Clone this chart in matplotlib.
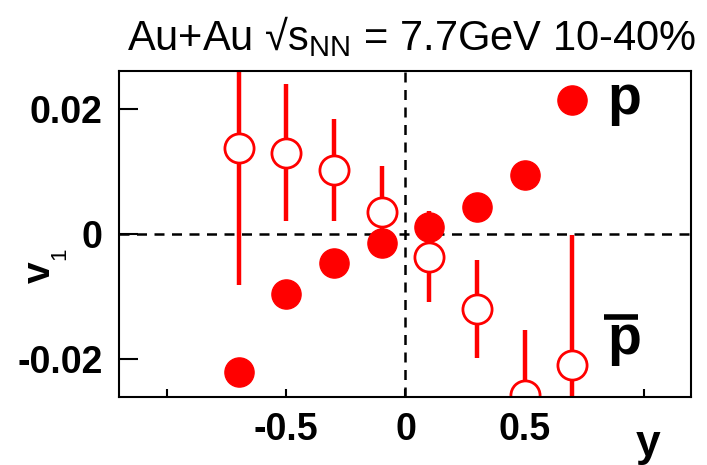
import os

os.environ.setdefault("MPLCONFIGDIR", "/tmp/matplotlib")

import matplotlib
matplotlib.use("Agg")
import matplotlib.pyplot as plt

plt.rcParams["font.family"] = ["Liberation Sans", "DejaVu Sans"]
plt.rcParams["mathtext.fontset"] = "custom"
plt.rcParams["mathtext.rm"] = "Liberation Sans"
plt.rcParams["mathtext.bf"] = "Liberation Sans:bold"

# rapidity bins
y_p = [-0.7, -0.5, -0.3, -0.1, 0.1, 0.3, 0.5]
v1_p = [-0.0220, -0.0096, -0.0046, -0.0014, 0.0012, 0.0044, 0.0094]

y_pbar = [-0.7, -0.5, -0.3, -0.1, 0.1, 0.3, 0.5, 0.7]
v1_pbar = [0.0137, 0.0130, 0.0102, 0.0036, -0.0036, -0.0120, -0.0257, -0.0209]
err_pbar = [0.0218, 0.0109, 0.0081, 0.0073, 0.0073, 0.0078, 0.0104, 0.0208]

xticks = [-1.0, -0.5, 0.0, 0.5, 1.0]
xticklabels = ["", "-0.5", "0", "0.5", ""]
yticks = [-0.02, 0.0, 0.02]
yticklabels = ["-0.02", "0", "0.02"]

RED = "#ff0000"

fig = plt.figure(figsize=(7.07, 4.65), dpi=100)
ax = fig.add_axes([0.169, 0.146, 0.809, 0.701])

ax.axhline(0, color="black", lw=1.8, ls=(0, (4, 3)), zorder=1)
ax.axvline(0, color="black", lw=1.8, ls=(0, (4, 3)), zorder=1)

ax.errorbar(y_pbar, v1_pbar, yerr=err_pbar, fmt="o", ms=21, mfc="white",
            mec=RED, mew=2, ecolor=RED, elinewidth=3.2, capsize=0, zorder=2)
ax.plot(y_p, v1_p, "o", ms=21, color=RED, mec=RED, zorder=3)

# legend-like labels
ax.plot([0.792], [0.911], "o", ms=21, color=RED, transform=ax.transAxes,
        clip_on=False, zorder=4)
ax.text(0.853, 0.911, "p", transform=ax.transAxes, fontsize=40,
        fontweight="bold", va="center", ha="left")
ax.text(0.853, 0.175, "p", transform=ax.transAxes, fontsize=40,
        fontweight="bold", va="center", ha="left")
ax.plot([0.847, 0.907], [0.246, 0.246], color="black", lw=4,
        transform=ax.transAxes, solid_capstyle="butt")

ax.set_xlim(-1.2, 1.2)
ax.set_ylim(-0.026, 0.026)
ax.set_xticks(xticks)
ax.set_xticklabels(xticklabels)
ax.set_yticks(yticks)
ax.set_yticklabels(yticklabels)
ax.tick_params(axis="x", direction="in", length=6, width=1.5, pad=11,
               labelsize=27)
ax.tick_params(axis="y", direction="in", length=14, width=1.5, pad=12,
               labelsize=27)
for lab in ax.get_xticklabels() + ax.get_yticklabels():
    lab.set_fontweight("bold")
for sp in ax.spines.values():
    sp.set_linewidth(1.5)

fig.text(0.934, 0.0, "y", fontsize=32, fontweight="bold", ha="right",
         va="bottom")
# y label: bold v with a small subscript 1
fig.text(39.5 / 707, 1 - 272 / 465, "v", fontsize=28, fontweight="bold",
         rotation=90, ha="center", va="center")
fig.text(60 / 707, 1 - 254 / 465, "1", fontsize=16, rotation=90,
         ha="center", va="center")
fig.text(0.582, 0.892, r"Au+Au √s$_{\mathregular{NN}}$ = 7.7GeV 10-40%",
         fontsize=30, ha="center", va="baseline")

fig.savefig("out.png", dpi=100)
